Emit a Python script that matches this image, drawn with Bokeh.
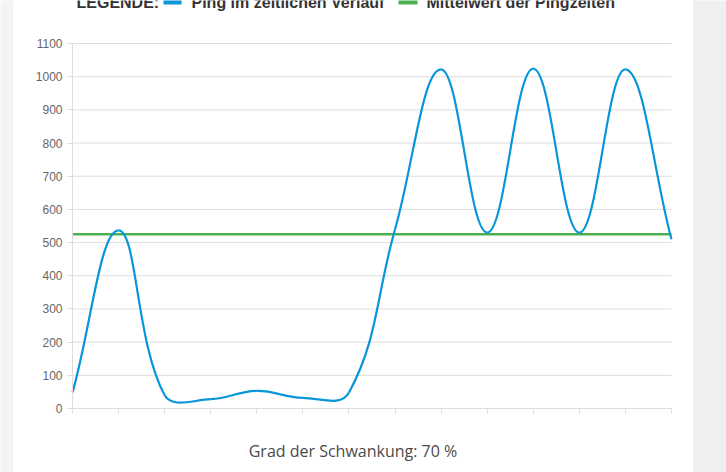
import math
from bokeh.plotting import figure
from bokeh.models import Label, BoxAnnotation, FixedTicker, Range1d
from bokeh.embed import file_html
from bokeh.resources import INLINE

# ---------------- data ----------------
point_labels = ["", "", "", "", "", "", "", "", "", "", "", "", "", ""]
ping_values = [48, 537, 40, 28, 53, 32, 48, 540, 1022, 530, 1024, 530, 1022, 510]
mean_value = 525
y_ticks = [0, 100, 200, 300, 400, 500, 600, 700, 800, 900, 1000, 1100]
legend_title = "LEGENDE:"
series_names = ["Ping im zeitlichen Verlauf", "Mittelwert der Pingzeiten"]
footer_text = "Grad der Schwankung: 70 %"

BLUE = "#0995d9"
GREEN = "#4caf50"
GRID = "#dddddd"

W, H = 726, 472
# pixel geometry of the chart area inside the canvas
PX_LEFT, PX_RIGHT = 72.0, 671.0     # x of first / last category
PX_ZERO, PX_TOP = 408.0, 43.0       # y of value 0 / top tick

n = len(ping_values)
xs = list(range(n))
y_max = y_ticks[-1]
sx = (PX_RIGHT - PX_LEFT) / (n - 1)
sy = (PX_ZERO - PX_TOP) / y_max

x_start = -PX_LEFT / sx
x_end = (n - 1) + (W - PX_RIGHT) / sx
y_end = y_max + PX_TOP / sy
y_start = -(H - PX_ZERO) / sy

p = figure(width=W, height=H, output_backend="svg", toolbar_location=None,
           x_range=Range1d(x_start, x_end), y_range=Range1d(y_start, y_end),
           min_border_left=0, min_border_right=0, min_border_top=0, min_border_bottom=0)
p.outline_line_color = None
p.background_fill_color = "white"
p.border_fill_color = "white"
p.xgrid.visible = False
p.ygrid.visible = False

# axes drawn at fixed positions inside the canvas
p.yaxis.fixed_location = 0
p.yaxis.bounds = (0, y_max)
p.yaxis.ticker = FixedTicker(ticks=y_ticks)
p.yaxis.axis_line_color = GRID
p.yaxis.major_tick_line_color = GRID
p.yaxis.major_tick_out = 5
p.yaxis.major_tick_in = 0
p.yaxis.minor_tick_line_color = None
p.yaxis.major_label_standoff = 5
p.yaxis.major_label_text_font = "Liberation Sans"
p.yaxis.major_label_text_font_size = "12px"
p.yaxis.major_label_text_color = "#666666"

p.xaxis.fixed_location = 0
p.xaxis.bounds = (0, n - 1)
p.xaxis.ticker = FixedTicker(ticks=xs)
p.xaxis.major_label_overrides = {i: lab for i, lab in enumerate(point_labels)}
p.xaxis.major_label_text_font_size = "1px"
p.xaxis.axis_line_color = GRID
p.xaxis.major_tick_line_color = GRID
p.xaxis.major_tick_out = 5
p.xaxis.major_tick_in = 0
p.xaxis.minor_tick_line_color = None

# horizontal grid lines across the chart area only
p.segment(x0=[0] * len(y_ticks), x1=[n - 1] * len(y_ticks), y0=y_ticks, y1=y_ticks,
          line_color=GRID, line_width=1, level="underlay")

# ---- smoothed curve (Chart.js style bezier, tension 0.4, in pixel space) ----
pts = [(i * sx, v * sy) for i, v in enumerate(ping_values)]
t = 0.4
area_w, area_h = (n - 1) * sx, y_max * sy
cps = []
for i in range(n):
    cur = pts[i]
    prev = pts[i - 1] if i > 0 else cur
    nxt = pts[i + 1] if i < n - 1 else cur
    d01 = math.hypot(cur[0] - prev[0], cur[1] - prev[1])
    d12 = math.hypot(nxt[0] - cur[0], nxt[1] - cur[1])
    tot = d01 + d12
    s01 = d01 / tot if tot else 0
    s12 = d12 / tot if tot else 0
    fa, fb = t * s01, t * s12
    cpp = (cur[0] - fa * (nxt[0] - prev[0]), cur[1] - fa * (nxt[1] - prev[1]))
    cpn = (cur[0] + fb * (nxt[0] - prev[0]), cur[1] + fb * (nxt[1] - prev[1]))
    cap = lambda c: (min(max(c[0], 0), area_w), min(max(c[1], 0), area_h))
    cps.append((cap(cpp), cap(cpn)))

x0 = xs[:-1]; y0 = ping_values[:-1]
x1 = xs[1:]; y1 = ping_values[1:]
cx0 = [cps[i][1][0] / sx for i in range(n - 1)]
cy0 = [cps[i][1][1] / sy for i in range(n - 1)]
cx1 = [cps[i + 1][0][0] / sx for i in range(n - 1)]
cy1 = [cps[i + 1][0][1] / sy for i in range(n - 1)]

p.line(x=xs, y=[mean_value] * n, line_color=GREEN, line_width=2.5)
p.bezier(x0=x0, y0=y0, x1=x1, y1=y1, cx0=cx0, cy0=cy0, cx1=cx1, cy1=cy1,
         line_color=BLUE, line_width=2.2)

# ---- page strips ----
def canvas_box(l, r, t_, b, **kw):
    return BoxAnnotation(left=l, right=r, top=t_, bottom=b,
                         left_units="canvas", right_units="canvas",
                         top_units="canvas", bottom_units="canvas", **kw)

p.add_layout(canvas_box(-5, 12, -5, H + 5, fill_color="#f4f4f4", fill_alpha=1,
                        line_color="#e4e4e4", line_width=1, level="underlay"))
p.add_layout(canvas_box(693, W + 5, -5, H + 5, fill_color="#efefef", fill_alpha=1,
                        line_color="#e2e2e2", line_width=1, level="underlay"))

# ---- legend (cut at the top) ----
LEG_FONT = "Liberation Sans"
for x, txt in [(76, legend_title), (191, series_names[0]), (426, series_names[1])]:
    p.add_layout(Label(x=x, y=1.5, x_units="canvas", y_units="canvas", text=txt,
                       text_font=LEG_FONT, text_font_style="bold", text_font_size="16px",
                       text_color="#333333", text_baseline="middle"))
p.add_layout(canvas_box(163, 181, -20, 4, fill_color=BLUE, fill_alpha=1, line_color=None))
p.add_layout(canvas_box(398, 417, -20, 4, fill_color=GREEN, fill_alpha=1, line_color=None))

# ---- footer ----
p.add_layout(Label(x=352.5, y=450.5, x_units="canvas", y_units="canvas", text=footer_text,
                   text_font="Open Sans", text_font_size="16px", text_color="#4a4a4a",
                   text_align="center", text_baseline="middle"))

open("out.html", "w").write(file_html(p, INLINE))
